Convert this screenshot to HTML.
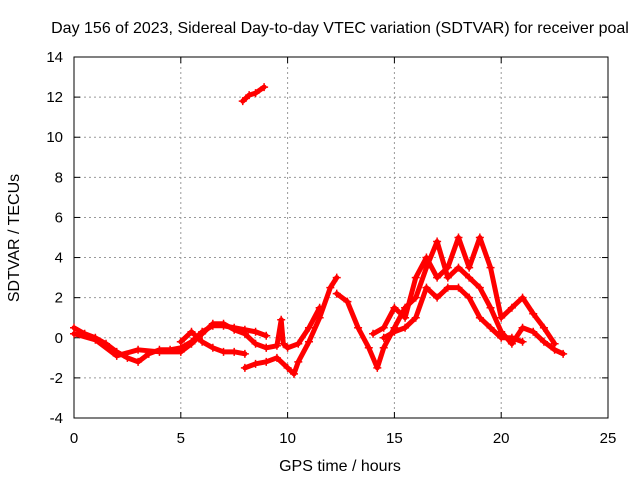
<!DOCTYPE html>
<html><head><meta charset="utf-8"><style>
body{margin:0;background:#fff;}
svg{display:block;font-family:"Liberation Sans",sans-serif;}
</style></head><body>
<svg id="chart" width="640" height="480">
<text x="340" y="33" text-anchor="middle" font-size="16">Day 156 of 2023, Sidereal Day-to-day VTEC variation (SDTVAR) for receiver poal</text>
<text x="340" y="471" text-anchor="middle" font-size="16">GPS time / hours</text>
<text transform="translate(19,238) rotate(-90)" text-anchor="middle" font-size="16">SDTVAR / TECUs</text>
<g id="grid"></g><g id="axes"></g><g id="marks"></g>
</svg>
<script>
const xTicks=[0,5,10,15,20,25];
const yTicks=[-4,-2,0,2,4,6,8,10,12,14];
const trackA=[[0,0.5],[0.5,0.2],[1,0],[1.5,-0.3],[2,-0.7],[2.5,-1.0],[3,-1.2],[3.5,-0.8],[4,-0.6],[4.5,-0.6],[5,-0.5],[5.5,-0.2],[6,0.3],[6.5,0.6],[7,0.6],[7.5,0.5],[8,0.4],[8.5,0.3],[9,0.1]];
const trackB=[[0,0.2],[1,-0.1],[2,-0.9],[3,-0.6],[4,-0.7],[5,-0.7],[5.5,-0.3],[6,0.2],[6.5,0.7],[7,0.7],[7.5,0.4],[8,0.2],[8.5,-0.3],[9,-0.5]];
const trackC=[[5,-0.2],[5.5,0.3],[6,-0.2],[6.5,-0.5],[7,-0.7],[7.5,-0.7],[8,-0.8]];
const trackD=[[8,-1.5],[8.5,-1.3],[9,-1.2],[9.5,-1.0],[10,-1.5],[10.3,-1.8],[10.5,-1.2],[11,-0.2],[11.5,1.0],[12,2.5],[12.3,3.0]];
const trackE=[[9,-0.5],[9.5,-0.4],[9.7,0.9],[9.8,-0.3],[10,-0.5],[10.5,-0.3],[11,0.5],[11.5,1.5]];
const trackF=[[12.3,2.2],[12.8,1.8],[13.3,0.5],[13.8,-0.5],[14.2,-1.5],[14.5,-0.5],[15,0.5],[15.5,1.5],[16,2.0],[16.5,3.5],[17,4.8],[17.5,3.0],[18,3.5],[18.5,3.0],[19,2.5],[19.5,1.5],[20,0.3],[20.5,-0.3],[21,0.5],[21.5,0.3],[22,-0.2],[22.5,-0.6],[22.9,-0.8]];
const trackG=[[14,0.2],[14.5,0.5],[15,1.5],[15.5,1.0],[16,3.0],[16.5,4.0],[17,3.0],[17.5,3.5],[18,5.0],[18.5,3.5],[19,5.0],[19.5,3.5],[20,1.0],[20.5,1.5],[21,2.0],[21.5,1.2],[22,0.5],[22.5,-0.3]];
const trackH=[[14.5,0.0],[15,0.3],[15.5,0.5],[16,1.0],[16.5,2.5],[17,2.0],[17.5,2.5],[18,2.5],[18.5,2.0],[19,1.0],[19.5,0.5],[20,0.0],[20.5,0.0],[21,-0.2]];
const trackI=[[7.9,11.8],[8.2,12.1],[8.5,12.2],[8.9,12.5]];
const tracks=[trackA,trackB,trackC,trackD,trackE,trackF,trackG,trackH,trackI];
const X0=74,X1=608,Y0=418,Y1=57;
const xs=v=>X0+(v-0)/25*(X1-X0);
const ys=v=>Y0-(v+4)/18*(Y0-Y1);
const NS="http://www.w3.org/2000/svg";
function mk(t,a,p){const e=document.createElementNS(NS,t);for(const k in a)e.setAttribute(k,a[k]);p.appendChild(e);return e;}
const grid=document.getElementById('grid'),axes=document.getElementById('axes'),marks=document.getElementById('marks');
xTicks.forEach(t=>{
 if(t>0&&t<25){const g=mk('line',{x1:xs(t),x2:xs(t),y1:Y1,y2:Y0,stroke:'#999','stroke-dasharray':'2,3','stroke-width':1},grid);
 }
 const l=mk('text',{x:xs(t),y:Y0+25,'text-anchor':'middle','font-size':15},axes);l.textContent=t;
 
 mk('line',{x1:xs(t),x2:xs(t),y1:Y0,y2:Y0-6,stroke:'#000'},axes);mk('line',{x1:xs(t),x2:xs(t),y1:Y1,y2:Y1+6,stroke:'#000'},axes);
});
yTicks.forEach(t=>{
 if(t>-4&&t<14){const g=mk('line',{x1:X0,x2:X1,y1:ys(t),y2:ys(t),stroke:'#999','stroke-dasharray':'2,3','stroke-width':1},grid);
 }
 const l=mk('text',{x:X0-11,y:ys(t)+5,'text-anchor':'end','font-size':15},axes);l.textContent=t;
 
 mk('line',{x1:X0,x2:X0+6,y1:ys(t),y2:ys(t),stroke:'#000'},axes);mk('line',{x1:X1,x2:X1-6,y1:ys(t),y2:ys(t),stroke:'#000'},axes);
});
const fr=mk('rect',{x:X0,y:Y1,width:X1-X0,height:Y0-Y1,fill:'none',stroke:'#000'},axes);

tracks.forEach(tr=>{
 const pl=mk('polyline',{points:tr.map(p=>xs(p[0])+','+ys(p[1])).join(' '),fill:'none',stroke:'#f00','stroke-width':5,'stroke-linejoin':'round','stroke-linecap':'round'},marks);
 
 
 tr.forEach(p=>{
  const m=mk('path',{d:`M${xs(p[0])-4},${ys(p[1])}h8M${xs(p[0])},${ys(p[1])-4}v8`,stroke:'#f00','stroke-width':1.5},marks);
  
  
 });
});
</script>
</body></html>
